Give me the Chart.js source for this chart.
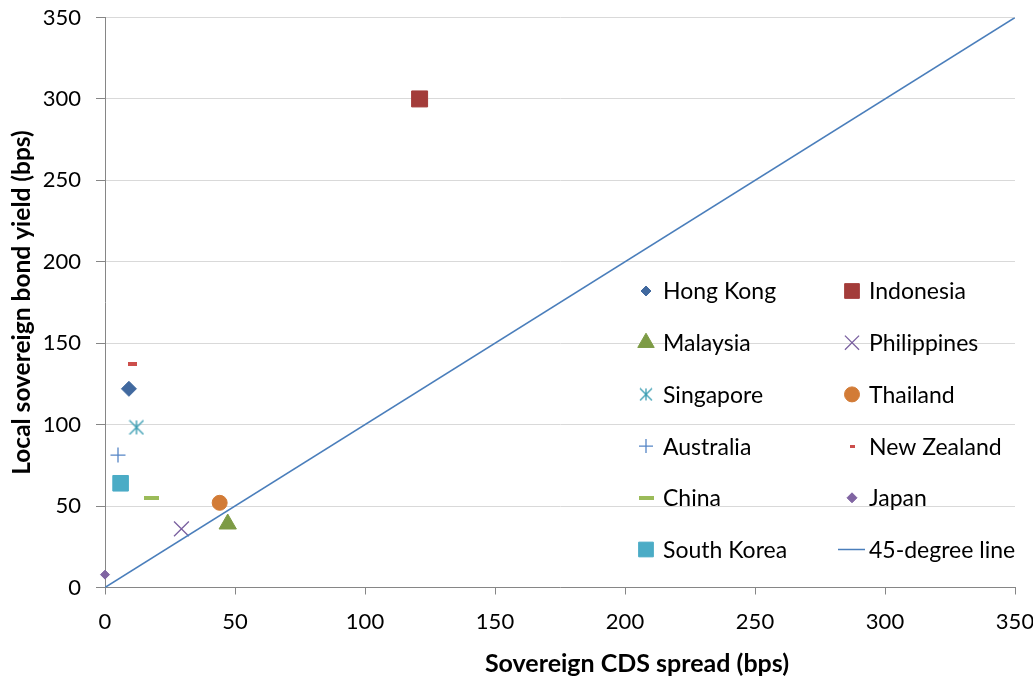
<!DOCTYPE html>
<html>
<head>
<meta charset="utf-8">
<script src="https://cdn.jsdelivr.net/npm/chart.js@4/dist/chart.umd.min.js"></script>
<style>
  html, body { margin: 0; padding: 0; background: #ffffff; }
  #wrap { width: 1033px; height: 684px; }
</style>
</head>
<body>
<div id="wrap"><canvas id="c" width="1033" height="684"></canvas></div>
<script>
// Sovereign CDS spread vs. local sovereign bond yield (bps)
const countries = ['Hong Kong', 'Indonesia', 'Malaysia', 'Philippines', 'Singapore', 'Thailand',
                   'Australia', 'New Zealand', 'China', 'Japan', 'South Korea'];
const cdsSpread = [9.2, 121, 47.2, 29.4, 12.1, 44.1, 5.0, 10.4, 17.8, 0, 6.0];
const bondYield = [122, 300, 39, 36, 98.3, 52, 81.3, 137, 55, 7.9, 64];

const refLineLabel = '45-degree line';
const refLineX = [0, 350];
const refLineY = [0, 350];

const axisMin = 0, axisMax = 350, axisStep = 50;

const xTitle = 'Sovereign CDS spread (bps)';
const yTitle = 'Local sovereign bond yield (bps)';

const FONT = 'Lato, "Open Sans", "DejaVu Sans", sans-serif';

// small canvases for marker shapes Chart.js lacks
function asteriskMarker(size, color, lw) {
  const c = document.createElement('canvas');
  c.width = size; c.height = size;
  const g = c.getContext('2d');
  g.strokeStyle = color; g.lineWidth = lw;
  const h = size / 2, m = 1;
  g.beginPath();
  g.moveTo(h, m); g.lineTo(h, size - m);
  g.moveTo(m, m); g.lineTo(size - m, size - m);
  g.moveTo(size - m, m); g.lineTo(m, size - m);
  g.stroke();
  return c;
}
function barMarker(w, h, color) {
  const c = document.createElement('canvas');
  c.width = w; c.height = h;
  const g = c.getContext('2d');
  g.fillStyle = color;
  g.fillRect(0, 0, w, h);
  return c;
}

// marker look per country
const markerLook = {
  'Hong Kong':   { color: '#41699F', style: 'rectRot',  r: 7.5, lstyle: 'rectRot', lr: 5,   bw: 1 },
  'Indonesia':   { color: '#A33C3A', style: 'rect',     r: 11.3, lstyle: 'rect',   lr: 10.4, bw: 1 },
  'Malaysia':    { color: '#7D9B45', style: 'triangle', r: 10,  lstyle: 'triangle', lr: 9.5, bw: 1 },
  'Philippines': { color: '#7A60A0', style: 'crossRot', r: 10.5, lstyle: 'crossRot', lr: 10, bw: 1.3 },
  'Singapore':   { color: '#3A9DB2', style: asteriskMarker(16, '#3A9DB2', 1.4), r: 8,
                   lstyle: asteriskMarker(14, '#3A9DB2', 1.3), lr: 7, bw: 1 },
  'Thailand':    { color: '#D27B36', style: 'circle',   r: 7.5, lstyle: 'circle',  lr: 7.5, bw: 1 },
  'Australia':   { color: '#5585C6', style: 'cross',    r: 7.5, lstyle: 'cross',   lr: 7,   bw: 1.3 },
  'New Zealand': { color: '#CC4E4B', style: barMarker(9, 4, '#CC4E4B'), r: 5,
                   lstyle: barMarker(5, 3, '#CC4E4B'), lr: 3, bw: 1 },
  'China':       { color: '#9BBB59', style: barMarker(15, 4, '#9BBB59'), r: 8,
                   lstyle: barMarker(15, 4, '#9BBB59'), lr: 8, bw: 1 },
  'Japan':       { color: '#8064A2', style: 'rectRot',  r: 4.5, lstyle: 'rectRot', lr: 5,   bw: 1 },
  'South Korea': { color: '#4BACC6', style: 'rect',     r: 11,  lstyle: 'rect',    lr: 10.4, bw: 1 }
};
const refLineColor = '#4A7EBB';

const datasets = countries.map((name, i) => {
  const m = markerLook[name];
  return {
    label: name,
    data: [{ x: cdsSpread[i], y: bondYield[i] }],
    pointStyle: m.style,
    pointRadius: m.r,
    pointHoverRadius: m.r,
    pointBackgroundColor: m.color,
    pointBorderColor: m.color,
    pointBorderWidth: m.bw,
    legendStyle: m.lstyle,
    legendRadius: m.lr,
    clip: false,
    order: 1
  };
});
datasets.push({
  label: refLineLabel,
  type: 'line',
  data: refLineX.map((x, i) => ({ x: x, y: refLineY[i] })),
  borderColor: refLineColor,
  borderWidth: 1.5,
  pointRadius: 0,
  fill: false,
  tension: 0,
  isLine: true,
  order: 0
});

// two-column legend inside the plot area
const legendLayout = { colX: [646, 852], textOffset: 17, rowY0: 291, rowStep: 51.7 };
const insideLegend = {
  id: 'insideLegend',
  afterDraw(chart) {
    const ctx = chart.ctx;
    ctx.save();
    chart.data.datasets.forEach((ds, i) => {
      const col = i % 2, row = Math.floor(i / 2);
      const x = legendLayout.colX[col];
      const y = legendLayout.rowY0 + row * legendLayout.rowStep;
      if (ds.isLine) {
        ctx.strokeStyle = ds.borderColor;
        ctx.lineWidth = ds.borderWidth;
        ctx.beginPath();
        ctx.moveTo(x - 14, y);
        ctx.lineTo(x + 13, y);
        ctx.stroke();
      } else {
        ctx.fillStyle = ds.pointBackgroundColor;
        ctx.strokeStyle = ds.pointBorderColor;
        ctx.lineWidth = ds.pointBorderWidth;
        Chart.helpers.drawPoint(ctx, {
          pointStyle: ds.legendStyle,
          radius: ds.legendRadius,
          rotation: 0,
          borderWidth: ds.pointBorderWidth
        }, x, y);
      }
      ctx.fillStyle = '#000000';
      ctx.font = '23px ' + FONT;
      ctx.textAlign = 'left';
      ctx.textBaseline = 'middle';
      ctx.fillText(ds.label, x + legendLayout.textOffset, y + 1);
    });
    ctx.restore();
  }
};

// x-axis title sits below the tick labels
const xAxisTitle = {
  id: 'xAxisTitle',
  afterDraw(chart) {
    const ctx = chart.ctx;
    ctx.save();
    ctx.fillStyle = '#000000';
    ctx.font = 'bold 25px ' + FONT;
    ctx.textAlign = 'center';
    ctx.textBaseline = 'alphabetic';
    ctx.fillText(xTitle, 637, 672);
    ctx.restore();
  }
};

new Chart(document.getElementById('c'), {
  type: 'scatter',
  data: { datasets: datasets },
  plugins: [insideLegend, xAxisTitle],
  options: {
    responsive: false,
    animation: false,
    events: [],
    layout: { padding: 0 },
    plugins: { legend: { display: false }, tooltip: { enabled: false } },
    scales: {
      x: {
        type: 'linear',
        min: axisMin, max: axisMax,
        afterFit(scale) { scale.height = 96.5; scale.paddingRight = 18; },
        ticks: {
          stepSize: axisStep,
          color: '#000000',
          padding: 14,
          maxRotation: 0,
          font: { family: FONT, size: 22 }
        },
        grid: {
          drawOnChartArea: false,
          drawTicks: true,
          tickLength: 7,
          tickColor: '#868686'
        },
        border: { color: '#868686', width: 1 }
      },
      y: {
        type: 'linear',
        min: axisMin, max: axisMax,
        afterFit(scale) { scale.width = 105; scale.paddingTop = 17.5; },
        ticks: {
          stepSize: axisStep,
          color: '#000000',
          padding: 15,
          font: { family: FONT, size: 22 }
        },
        grid: {
          color: '#D9D9D9',
          lineWidth: 1,
          drawTicks: true,
          tickLength: 9,
          tickColor: '#868686'
        },
        border: { color: '#868686', width: 1 },
        title: {
          display: true,
          text: yTitle,
          color: '#000000',
          padding: { top: 7, bottom: 0 },
          font: { family: FONT, size: 24.5, weight: 'bold' }
        }
      }
    }
  }
});
</script>
</body>
</html>
